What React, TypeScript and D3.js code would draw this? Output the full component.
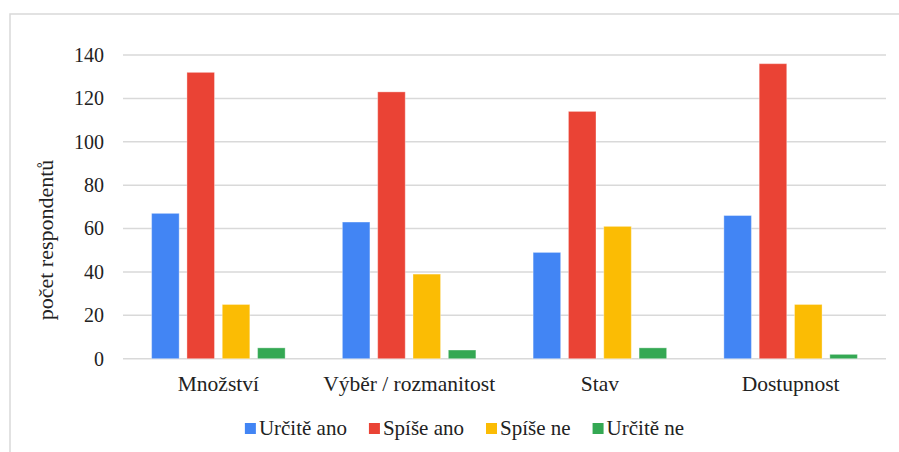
import React, { useEffect, useRef } from "react";
import * as d3 from "d3";

const categories = ["Množství", "Výběr / rozmanitost", "Stav", "Dostupnost"];
const seriesNames = ["Určitě ano", "Spíše ano", "Spíše ne", "Určitě ne"];
const urciteAno = [67, 63, 49, 66];
const spiseAno = [132, 123, 114, 136];
const spiseNe = [25, 39, 61, 25];
const urciteNe = [5, 4, 5, 2];
const yTicks = [0, 20, 40, 60, 80, 100, 120, 140];
const colors = ["#4285F4", "#EA4335", "#FBBC04", "#34A853"];

const W = 899;
const H = 452;
const FONT = '"Liberation Serif", "DejaVu Serif", serif';

export default function App() {
  const ref = useRef<SVGSVGElement>(null);

  useEffect(() => {
    const svg = d3.select(ref.current);
    svg.selectAll("*").remove();
    const series = [urciteAno, spiseAno, spiseNe, urciteNe];

    const left = 123, right = 886, top = 55, bottom = 358.7;

    svg.append("rect")
      .attr("x", 10).attr("y", 14).attr("width", 1000).attr("height", 1000)
      .attr("fill", "white").attr("stroke", "#d9d9d9").attr("stroke-width", 1.5);

    const y = d3.scaleLinear().domain([0, 140]).range([bottom, top]);
    const x0 = d3.scaleBand<string>().domain(categories).range([left, right])
      .paddingInner(0.3).paddingOuter(0.15);
    const x1 = d3.scaleBand<string>().domain(seriesNames).range([0, x0.bandwidth()])
      .paddingInner(0.22).paddingOuter(0);

    const g = svg.append("g");
    g.selectAll("line.grid").data(yTicks).enter().append("line")
      .attr("x1", left).attr("x2", right)
      .attr("y1", (d) => y(d)).attr("y2", (d) => y(d))
      .attr("stroke", "#d9d9d9").attr("stroke-width", 1.5);

    g.selectAll("text.ytick").data(yTicks).enter().append("text")
      .attr("x", 104).attr("y", (d) => y(d))
      .attr("dy", "0.34em")
      .attr("text-anchor", "end")
      .style("font-family", FONT).style("font-size", "20px").attr("fill", "#222")
      .text((d) => String(d));

    categories.forEach((c, ci) => {
      series.forEach((s, si) => {
        g.append("rect")
          .attr("x", (x0(c) as number) + (x1(seriesNames[si]) as number))
          .attr("y", y(s[ci]))
          .attr("width", x1.bandwidth())
          .attr("height", bottom - y(s[ci]))
          .attr("fill", colors[si])
          .attr("stroke", "rgba(255,255,255,0.35)")
          .attr("stroke-width", 1);
      });
      g.append("text")
        .attr("x", (x0(c) as number) + x0.bandwidth() / 2)
        .attr("y", 391)
        .attr("text-anchor", "middle")
        .style("font-family", FONT).style("font-size", "21.5px").attr("fill", "#222")
        .text(c);
    });

    svg.append("text")
      .attr("transform", "translate(53,240) rotate(-90)")
      .attr("text-anchor", "middle")
      .style("font-family", FONT).style("font-size", "22px").attr("fill", "#222")
      .text("počet respondentů");

    // legend
    const lg = svg.append("g");
    const items = seriesNames.map((n, i) => {
      const it = lg.append("g");
      it.append("rect").attr("x", 0).attr("y", -12).attr("width", 11).attr("height", 11)
        .attr("fill", colors[i]);
      const t = it.append("text").attr("x", 14).attr("y", 0)
        .style("font-family", FONT).style("font-size", "21px").attr("fill", "#222").text(n);
      const w = 14 + (t.node() as SVGTextElement).getComputedTextLength();
      return { it, w };
    });
    const gap = 22;
    const total = d3.sum(items, (d) => d.w) + gap * (items.length - 1);
    let cx = 464.5 - total / 2;
    items.forEach(({ it, w }) => {
      it.attr("transform", `translate(${cx},435)`);
      cx += w + gap;
    });
  }, []);

  return (
    <svg
      ref={ref}
      width={W}
      height={H}
      style={{ position: "absolute", left: 0, top: 0, display: "block", background: "white" }}
    />
  );
}
